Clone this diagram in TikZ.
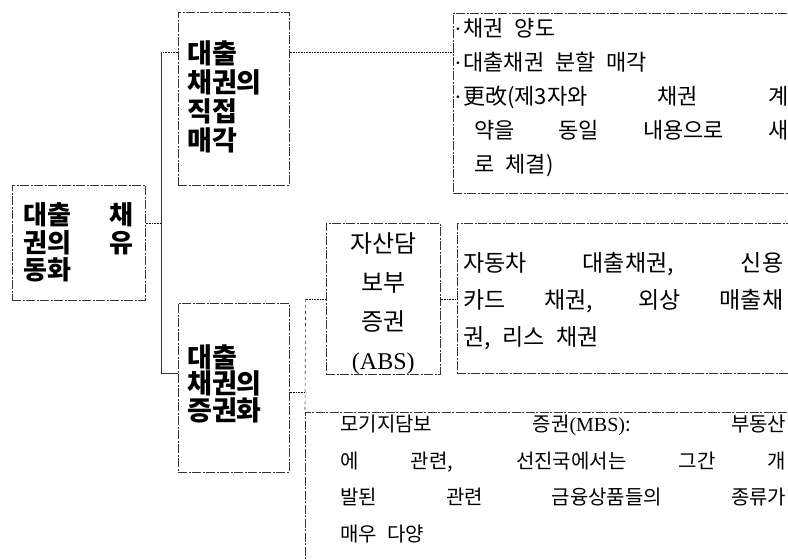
\documentclass[tikz,border=0pt]{standalone}
\usepackage{fontspec}
\setmainfont{Noto Sans CJK KR}
\newfontfamily\latinfont{Liberation Serif}
\newcommand{\bul}{\makebox[9pt][l]{\latinfont ·}}
\newcommand{\wsp}{\spaceskip=.5em plus 1em\relax}

\begin{document}
\begin{tikzpicture}[x=1pt, y=-1pt, inner sep=0pt,
    main/.style = {draw=black!80, anchor=north west, line width=0.6pt, dash pattern=on 9pt off 1.5pt on 2pt off 1.5pt},
    head/.style = {main, align=left, text width=93pt, minimum width=111pt},
    leaf/.style = {main, align=justify},
    link/.style = {densely dotted, line width=0.6pt}]
  \useasboundingbox (0,0) rectangle (788,560);
  \node[main, align=left, text width=110pt, minimum width=133pt, text height=39.6pt, text depth=75.4pt, font=\fontsize{26}{27.5}\selectfont\bfseries] (1) at (12,185) {대출\hfill 채\\권의\hfill 유\\동화};
  \node[head, text height=51pt, text depth=122pt, font=\fontsize{27}{29}\selectfont\bfseries] (2) at (178,12) {대출\\채권의\\직접\\매각};
  \node[leaf, text width=334pt, minimum width=336pt, text height=23pt, text depth=157pt, font=\fontsize{22}{34}\selectfont\wsp] (3) at (453,13) {\bul 채권 양도\\\bul 대출채권 분할 매각\\\bul 更改(제3자와 채권 계\linebreak \hspace*{20pt}약을 동일 내용으로 새\linebreak \hspace*{20pt}로 체결)};
  \node[head, text height=64pt, text depth=105pt, font=\fontsize{27}{25}\selectfont\bfseries] (4) at (178,303) {대출\\채권의\\증권화};
  \node[main, align=center, text width=100pt, minimum width=114pt, text height=29pt, text depth=122pt, font=\fontsize{24}{39}\selectfont] (5) at (326,223) {자산담\\보부\\증권\\{\latinfont (ABS)}};
  \node[leaf, text width=320pt, minimum width=332pt, text height=48.5pt, text depth=101.5pt, font=\fontsize{23}{37}\selectfont\wsp] (6) at (457,223) {자동차 대출채권, 신용\linebreak 카드 채권, 외상 매출채\linebreak 권, 리스 채권};
  \node[leaf, text width=446pt, minimum width=516pt, text height=19.4pt, text depth=200pt, font=\fontsize{20}{36.5}\selectfont\wsp] (7) at (305,412) {모기지담보 증권{\latinfont (MBS)}: 부동산\linebreak 에 관련, 선진국에서는 그간 개\linebreak 발된 관련 금융상품들의 종류가\linebreak 매우 다양};
  % first level
  \coordinate (a) at ([yshift=-40pt]2.north west);
  \coordinate (b) at ([yshift=-70pt]4.north west);
  \draw[link] (a) -- ++(-17,0) coordinate (t);
  \draw[line width=0.8pt, black!80] (t) |- (b);
  \coordinate (r) at ([yshift=20pt]1.east);
  \draw[link] (r) -- (r -| t);
  \coordinate (c) at ([yshift=-40pt]2.north east);
  \draw[link] (c) -- (c -| 3.west);
  % second level
  \coordinate (d) at ([yshift=-4pt]4.east);
  \draw[link] (d) -- ++(16,0) coordinate (u);
  \draw[line width=0.6pt, black!80, dashed] (5.west -| u) -- (7.north west);
  \draw[link] (5.west -| u) -- (5.west);
  \draw[link] (5.east) -- (5.east -| 6.west);
\end{tikzpicture}
\end{document}
